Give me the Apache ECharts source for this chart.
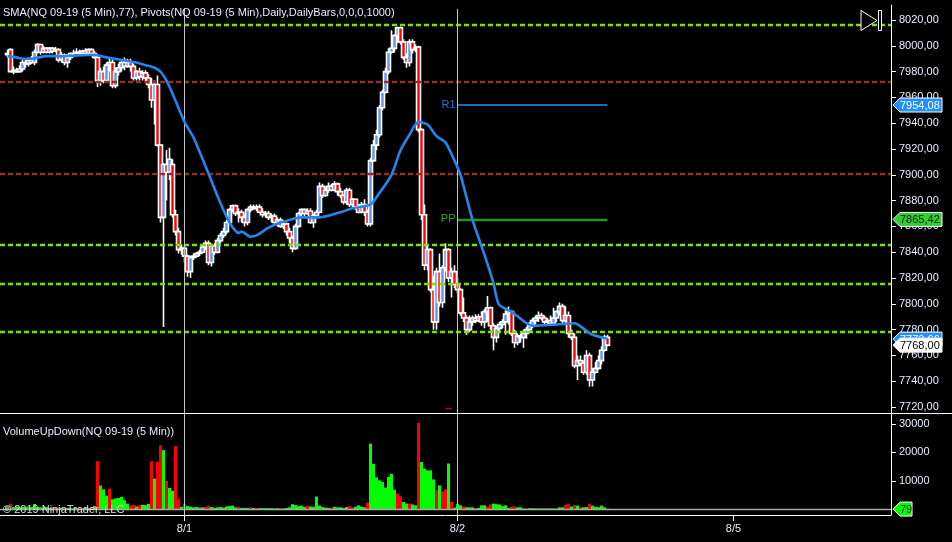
<!DOCTYPE html>
<html><head><meta charset="utf-8">
<style>html,body{margin:0;padding:0;background:#000}#c{width:952px;height:542px}</style>
<script src="https://cdn.jsdelivr.net/npm/echarts@6/dist/echarts.min.js"></script>
</head><body><div id="c"></div>
<script>
const titleText = 'SMA(NQ 09-19 (5 Min),77), Pivots(NQ 09-19 (5 Min),Daily,DailyBars,0,0,0,1000)';
const volumeTitle = 'VolumeUpDown(NQ 09-19 (5 Min))';
const copyright = '\u00a9 2019 NinjaTrader, LLC';
const priceTicks = [7720,7740,7760,7780,7800,7820,7840,7860,7880,7900,7920,7940,7960,7980,8000,8020];
const volumeTicks = [10000,20000,30000];
const dateBars = [61,152,244];
const dateLabels = ['8/1','8/2','8/5'];
const sessionBars = [61,152];
const categoryCount = 297;
const firstBar = 2;
const opens = [7993,7997,7980,7981,7980,7982,7987,7986,7989,7987,
7995,8001,7995,7998,7995,7998,7996,7997,7989,7993,
7987,7991,7994,7994,7995,7994,7996,7994,7997,7994,
7991,7973,7980,7973,7985,7987,7969,7980,7983,7987,
7984,7987,7984,7975,7980,7976,7979,7975,7970,7958,
7970,7923,7867,7908,7902,7908,7869,7856,7842,7843,
7837,7825,7836,7837,7839,7840,7844,7847,7832,7845,
7840,7849,7853,7856,7863,7873,7876,7870,7871,7867,
7863,7873,7875,7874,7875,7871,7869,7870,7867,7868,
7863,7865,7860,7862,7856,7851,7843,7860,7870,7873,
7870,7872,7863,7868,7871,7891,7884,7888,7891,7888,
7893,7887,7884,7879,7888,7877,7881,7875,7871,7877,
7871,7862,7911,7923,7931,7952,7964,7980,7995,7998,
8008,8014,8003,7991,7987,8003,7997,7999,7935,7869,
7830,7842,7811,7786,7825,7801,7828,7842,7820,7825,
7815,7811,7793,7789,7780,7786,7789,7787,7790,7786,
7794,7797,7783,7774,7781,7784,7786,7792,7794,7777,
7770,7775,7774,7777,7780,7783,7787,7789,7791,7789,
7786,7787,7785,7789,7794,7798,7787,7791,7777,7774,
7752,7756,7754,7747,7760,7741,7747,7750,7756,7764,
7774];
const closes = [7994,7980,7981,7980,7982,7987,7986,7989,7987,7995,
8001,7995,7998,7995,7998,7996,7997,7989,7993,7987,
7991,7994,7994,7995,7994,7996,7994,7997,7994,7991,
7973,7980,7973,7985,7987,7969,7980,7983,7987,7984,
7987,7984,7975,7980,7976,7979,7975,7970,7958,7970,
7923,7867,7908,7902,7912,7869,7856,7842,7843,7837,
7825,7836,7837,7839,7840,7844,7847,7832,7845,7840,
7849,7853,7856,7863,7873,7876,7870,7871,7867,7863,
7873,7875,7874,7875,7871,7869,7870,7867,7868,7863,
7865,7860,7862,7856,7851,7843,7860,7870,7873,7870,
7872,7863,7868,7871,7891,7884,7888,7891,7888,7893,
7887,7884,7879,7888,7877,7881,7875,7871,7877,7871,
7862,7911,7923,7931,7952,7964,7980,7995,7998,8008,
8014,8003,7991,7987,8003,7997,7998,7935,7869,7830,
7842,7811,7786,7825,7801,7828,7842,7820,7825,7815,
7811,7793,7789,7780,7786,7789,7787,7790,7786,7794,
7797,7783,7774,7781,7784,7786,7792,7794,7777,7770,
7775,7774,7777,7780,7783,7787,7789,7791,7789,7786,
7787,7785,7789,7794,7798,7787,7791,7777,7774,7752,
7756,7754,7747,7760,7741,7747,7750,7756,7764,7774,
7768];
const highs = [7997,7998,7984,7983,7985,7989,7990,7991,7992,7997,
8002,8001,8000,7999,7999,7999,7999,7998,7995,7994,
7993,7995,7997,7998,7997,7997,7998,7998,7998,7996,
7993,7983,7984,7987,7990,7989,7983,7986,7989,7991,
7990,7990,7986,7981,7983,7981,7981,7978,7975,7973,
7977,7923,7909,7919,7921,7912,7873,7859,7846,7846,
7838,7837,7839,7840,7842,7846,7849,7849,7846,7847,
7851,7855,7859,7865,7874,7877,7877,7874,7873,7870,
7874,7877,7877,7877,7877,7874,7872,7872,7870,7870,
7867,7867,7864,7863,7859,7853,7862,7871,7874,7874,
7874,7874,7870,7873,7894,7893,7891,7894,7893,7895,
7894,7890,7885,7890,7890,7882,7881,7877,7879,7881,
7873,7913,7927,7935,7954,7966,7983,7998,8012,8009,
8015,8015,8005,7994,8005,8005,8001,8000,7936,7877,
7846,7843,7822,7828,7839,7830,7847,7843,7828,7830,
7820,7812,7805,7791,7791,7791,7792,7792,7794,7796,
7806,7798,7785,7783,7786,7788,7795,7798,7795,7780,
7777,7777,7780,7782,7786,7789,7791,7794,7793,7791,
7789,7791,7797,7795,7801,7800,7798,7794,7780,7777,
7760,7760,7756,7764,7762,7750,7755,7760,7767,7776,
7776];
const lows = [7991,7980,7978,7979,7979,7980,7983,7984,7986,7985,
7994,7993,7994,7994,7994,7994,7995,7987,7987,7985,
7983,7989,7992,7994,7993,7993,7994,7994,7992,7990,
7968,7969,7971,7972,7980,7967,7967,7977,7980,7981,
7983,7980,7973,7973,7973,7973,7972,7967,7952,7939,
7922,7863,7782,7880,7896,7867,7853,7839,7838,7832,
7821,7820,7834,7836,7837,7839,7842,7830,7829,7838,
7839,7847,7851,7854,7862,7871,7868,7863,7863,7860,
7861,7871,7873,7872,7870,7867,7867,7865,7863,7862,
7860,7859,7858,7853,7847,7840,7842,7859,7868,7868,
7869,7862,7859,7867,7870,7882,7883,7886,7887,7887,
7884,7882,7877,7877,7875,7874,7873,7870,7870,7868,
7860,7860,7910,7919,7929,7950,7963,7978,7994,7995,
8002,8001,7989,7983,7984,7994,7995,7933,7865,7826,
7826,7809,7780,7780,7798,7797,7825,7817,7805,7812,
7808,7791,7786,7776,7778,7783,7785,7786,7783,7781,
7786,7780,7764,7770,7779,7781,7776,7784,7775,7766,
7768,7770,7766,7773,7778,7781,7784,7786,7787,7784,
7783,7784,7783,7786,7791,7785,7784,7774,7772,7750,
7741,7752,7745,7745,7736,7736,7746,7749,7753,7763,
7767];
const volumes = [700,2000,800,1000,700,800,900,700,800,1900,
800,700,600,800,500,600,400,700,500,600,
500,400,300,500,400,300,500,400,700,1200,
16900,8400,7000,4800,7300,3500,3800,4000,4400,3200,
2000,1300,1500,1000,1500,1600,1500,1900,16900,10800,
16700,22500,20800,10000,7500,6500,22200,3700,900,2000,
1200,900,700,800,600,700,800,1300,800,500,
700,800,600,1000,1200,1300,700,900,500,500,
500,700,500,500,400,400,400,400,400,300,
400,400,300,500,700,1800,1500,1100,1300,800,
1300,1000,900,4500,1300,800,600,500,700,900,
700,700,500,800,1100,700,900,1400,900,700,
2300,23100,16000,11200,10200,9600,7600,11400,12500,6900,
5500,4600,2600,2000,2000,1700,1400,30400,16600,14300,
13700,13700,10500,6700,8400,6300,7000,16100,2600,600,
1800,1400,1000,700,700,700,300,500,1400,1400,
1000,1700,2000,1800,1700,1100,1400,500,900,1000,
700,700,300,300,400,400,300,300,300,300,
300,300,300,300,700,700,1600,1800,1000,1500,
1300,800,700,800,1800,1300,900,700,1300,700,
300];
const downBars = [1,15,17,19,24,28,30,34,41,42,44,48,50,51,53,56,57,59,66,67,77,81,83,91,100,108,114,115,120,130,131,134,137,143,145,146,148,152,160,161,168,169,173,186,187,189,191,194,200];
const smaBars = [2,5,7,10,15,20,31,35,40,45,48,51,53,55,57,61,64,66,69,73,76,79,80,83,85,89,93,96,100,106,113,117,123,126,130,133,136,139,142,145,148,151,153,157,161,164,165,166,169,170,175,177,185,191,195,197,202];
const smaValues = [7992,7991,7990,7990,7992,7992,7993,7991,7989,7987,7985,7983,7980,7973,7963,7941,7929,7918,7901,7878,7863,7855,7856,7852,7853,7859,7863,7865,7867,7867,7871,7874,7877,7886,7900,7919,7931,7941,7939,7930,7925,7911,7900,7865,7838,7816,7805,7799,7795,7794,7785,7783,7784,7785,7779,7776,7773];
const greenLevels = [8016,7846,7815.7,7778];
const redLevels = [7972.3,7900.6];
const pivotEndBar = 202;
const pivotLevels = [7954.08,7865.42];
const pivotNames = ['R1','PP'];
const pivotColors = ['#1e90ff','#1f9a1f'];
const pivotInk = ['#1e78d8','#22b022'];
const pivotStartBar = 152;
const lowPivot = 7719.3;
const lowPivotBars = [148,150];
const tagValues = [7954.08,7865.42,7772.66,7768];
const tagTexts = ['7954,08','7865,42','7772,66','7768,00'];
const tagFills = ['#1e90ff','#32cd32','#1e90ff','#ffffff'];
const tagInks = ['#ffffff','#062006','#ffffff','#000000'];
const volumeNow = 79;
const volumeTag = '79';

const categories = Array.from({length:categoryCount},(_,i)=>{const d=dateBars.indexOf(i);return d>=0?dateLabels[d]:'';});
const pad = n => Array(n).fill('-');
const candleData = pad(firstBar).map(()=>['-','-','-','-']).concat(opens.map((o,i)=>[o,closes[i],lows[i],highs[i]]));
const volUp = pad(firstBar).concat(volumes.map((v,i)=>downBars.includes(i)?'-':v));
const volDown = pad(firstBar).concat(volumes.map((v,i)=>downBars.includes(i)?v:'-'));
const font = 'Liberation Sans, Arial, sans-serif';
const ink = '#e4ecff';
const TOP_MIN = 7715.4, TOP_MAX = 8031.6, VOL_MIN = -2000, VOL_MAX = 33500;
const plain = (v,c,w,t)=>({yAxis:v,lineStyle:{color:c,width:w,type:t}});

const hLevels = greenLevels.map(v=>plain(v,'#7ee000',2.4,[5,3])).concat(redLevels.map(v=>plain(v,'#962c2c',2.4,[5,3])));
const pivotSegs = pivotLevels.map((v,i)=>[
  {coord:[pivotStartBar,v],lineStyle:{color:pivotColors[i],width:i?2.4:1.6,type:'solid'},
   label:{show:true,position:'start',formatter:pivotNames[i],color:pivotInk[i],fontSize:11,fontFamily:font,distance:2}},
  {coord:[pivotEndBar,v]}]);
const lowSeg = [[{coord:[lowPivotBars[0],lowPivot],lineStyle:{color:'#e00000',width:1.4,type:'solid'},label:{show:false}},{coord:[lowPivotBars[1],lowPivot]}]];
const vert = (yA,yB)=>sessionBars.map(b=>[{coord:[b,yA],lineStyle:{color:'#c4c4c4',width:1,type:'solid'},label:{show:false}},{coord:[b,yB]}]);

function tagRender(texts,fills,inks){
  return function(params,api){
    const i=params.dataIndex, y=api.coord([0,api.value(1)])[1];
    const x=params.coordSys.x+params.coordSys.width+2;
    const w=texts[i].length*6+7;
    return {type:'group',children:[
      {type:'polygon',shape:{points:[[x,y],[x+7,y-7],[x+w,y-7],[x+w,y+7],[x+7,y+7]]},style:{fill:fills[i],stroke:'#fff',lineWidth:1}},
      {type:'text',style:{x:x+7,y:y+0.5,text:texts[i],fill:inks[i],font:'11px '+font,verticalAlign:'middle',align:'left'}}
    ]};
  };
}
const chart = echarts.init(document.getElementById('c'),null,{renderer:'canvas'});
chart.setOption({
  animation:false,
  backgroundColor:'#000',
  textStyle:{fontFamily:font},
  title:[
    {text:titleText,left:0,top:6,padding:[0,0,0,3],textStyle:{color:ink,fontSize:11,fontWeight:'normal',fontFamily:font,lineHeight:14}},
    {text:volumeTitle,left:0,top:425,padding:[0,0,0,3],textStyle:{color:ink,fontSize:11,fontWeight:'normal',fontFamily:font,lineHeight:14}},
    {text:copyright,left:0,top:503,padding:[0,0,0,3],z:20,textStyle:{color:'#dddddd',fontSize:11,fontWeight:'normal',fontFamily:font,lineHeight:14}}
  ],
  grid:[
    {left:0,top:5,width:891,height:408},
    {left:0,top:414,width:891,height:101}
  ],
  xAxis:[
    {type:'category',gridIndex:0,data:categories,show:false},
    {type:'category',gridIndex:1,data:categories,position:'bottom',
     axisLine:{show:true,onZero:false,lineStyle:{color:'#fff',width:1}},
     axisTick:{show:true,alignWithLabel:true,length:6,interval:(i)=>dateBars.includes(i),lineStyle:{color:'#fff'}},
     axisLabel:{show:true,interval:(i)=>dateBars.includes(i),color:ink,fontSize:11,fontFamily:font,margin:8},
     splitLine:{show:false}}
  ],
  yAxis:[
    {type:'value',gridIndex:0,position:'right',min:TOP_MIN,max:TOP_MAX,
     axisLine:{show:true,lineStyle:{color:'#fff'}},
     axisTick:{show:true,length:5,customValues:priceTicks,lineStyle:{color:'#fff'}},
     axisLabel:{show:true,customValues:priceTicks,margin:8,padding:[2,0,0,0],color:ink,fontSize:11,fontFamily:font,
       formatter:v=>v.toFixed(2).replace('.',',')},
     splitLine:{show:false}},
    {type:'value',gridIndex:1,position:'right',min:VOL_MIN,max:VOL_MAX,
     axisLine:{show:true,onZero:false,lineStyle:{color:'#fff'}},
     axisTick:{show:true,length:5,customValues:volumeTicks,lineStyle:{color:'#fff'}},
     axisLabel:{show:true,customValues:volumeTicks,margin:8,padding:[2,0,0,0],color:ink,fontSize:11,fontFamily:font,formatter:v=>String(v)},
     splitLine:{show:false}}
  ],
  series:[
    {type:'candlestick',xAxisIndex:0,yAxisIndex:0,data:candleData,barWidth:4,
     itemStyle:{color:'#6495ed',color0:'#ff0000',borderColor:'#ffffff',borderColor0:'#ffffff',borderWidth:1.6},
     markLine:{silent:true,symbol:'none',label:{show:false},animation:false,
       data:hLevels.concat(pivotSegs,lowSeg,vert(TOP_MAX-3,TOP_MIN))}},
    {type:'line',xAxisIndex:0,yAxisIndex:0,data:smaBars.map((b,i)=>[b,smaValues[i]]),showSymbol:false,smooth:0.25,z:5,
     lineStyle:{color:'#1e88f0',width:2.6}},
    {type:'bar',xAxisIndex:1,yAxisIndex:1,data:volUp,barWidth:3,barGap:'-100%',itemStyle:{color:'#00ff00'},
     markLine:{silent:true,symbol:'none',label:{show:false},animation:false,
       data:[plain(volumeNow,'#a8a8a8',1.4,'solid')].concat(vert(VOL_MAX,VOL_MIN))}},
    {type:'bar',xAxisIndex:1,yAxisIndex:1,data:volDown,barWidth:3,barGap:'-100%',itemStyle:{color:'#ff0000'}},
    {type:'custom',xAxisIndex:0,yAxisIndex:0,z:10,clip:false,silent:true,
     data:tagValues.map(v=>[0,v]),encode:{x:0,y:1},renderItem:tagRender(tagTexts,tagFills,tagInks)},
    {type:'custom',xAxisIndex:1,yAxisIndex:1,z:10,clip:false,silent:true,
     data:[[0,volumeNow]],encode:{x:0,y:1},renderItem:tagRender([volumeTag],['#00ff00'],['#062006'])}
  ],
  graphic:[
    {type:'line',silent:true,z:30,shape:{x1:0,y1:413.5,x2:952,y2:413.5},style:{stroke:'#fff',lineWidth:1}},
    {type:'polygon',silent:true,z:30,shape:{points:[[861,10.5],[877,20.5],[861,30.5]]},style:{fill:'#000',stroke:'#fff',lineWidth:1}},
    {type:'rect',silent:true,z:30,shape:{x:878.5,y:10.5,width:3,height:20},style:{fill:'#000',stroke:'#fff',lineWidth:1}}
  ]
});
</script></body></html>
